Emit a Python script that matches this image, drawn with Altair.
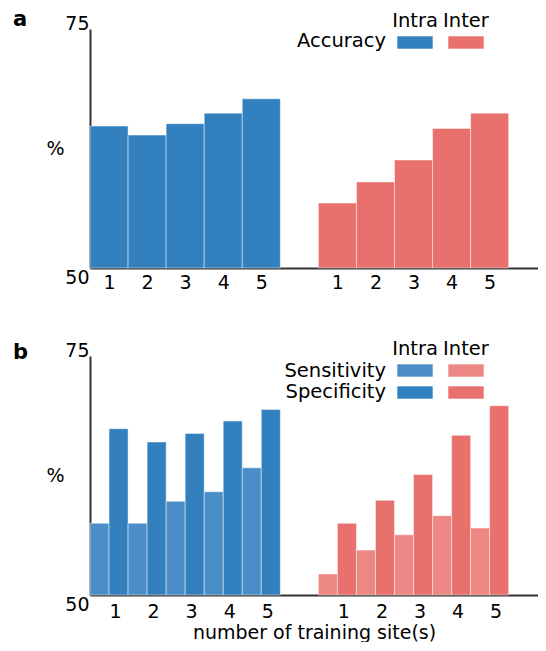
import altair as alt
import pandas as pd

# ---------------- data ----------------
SITES = [1, 2, 3, 4, 5]
GROUPS = ["Intra", "Inter"]
ACC_INTRA = [64.85, 63.9, 65.1, 66.2, 67.7]
ACC_INTER = [56.8, 59.0, 61.3, 64.6, 66.2]
SENS_INTRA = [57.5, 57.5, 59.8, 60.8, 63.3]
SPEC_INTRA = [67.4, 66.0, 66.9, 68.2, 69.4]
SENS_INTER = [52.2, 54.7, 56.3, 58.3, 57.0]
SPEC_INTER = [57.5, 59.9, 62.6, 66.7, 69.8]
Y_TICKS = [50, 75]
X_TITLE = "number of training site(s)"

BLUE = "#3380bf"
RED = "#e8716d"
BLUE_H = "#4b8dc7"
RED_H = "#ec8783"

FONT = "DejaVu Sans"
W, H = 448, 239


def slot(group, site):
    return site - 1 if group == "Intra" else site + 5


rows_a = []
for g, vals in (("Intra", ACC_INTRA), ("Inter", ACC_INTER)):
    for s, v in zip(SITES, vals):
        p = slot(g, s)
        rows_a.append(dict(group=g, key=g + "|Accuracy", site=s, value=v, x0=p - 0.5, x1=p + 0.5))
df_a = pd.DataFrame(rows_a)

rows_b = []
for g, sens, spec in (("Intra", SENS_INTRA, SPEC_INTRA), ("Inter", SENS_INTER, SPEC_INTER)):
    for s, v1, v2 in zip(SITES, sens, spec):
        p = slot(g, s)
        rows_b.append(dict(group=g, key=g + "|Sensitivity", site=s, value=v1, x0=p - 0.5, x1=p))
        rows_b.append(dict(group=g, key=g + "|Specificity", site=s, value=v2, x0=p, x1=p + 0.5))
df_b = pd.DataFrame(rows_b)

tick_pos = [slot(g, s) for g in GROUPS for s in SITES]

color_scale = alt.Scale(
    domain=["Intra|Accuracy", "Inter|Accuracy", "Intra|Sensitivity", "Inter|Sensitivity",
            "Intra|Specificity", "Inter|Specificity"],
    range=[BLUE, RED, BLUE_H, RED_H, BLUE, RED],
)


def bars(df, label_offset, label_pad, show_title):
    x_axis = alt.Axis(
        values=tick_pos,
        labelExpr="datum.value < 5 ? datum.value + 1 : datum.value - 5",
        ticks=False, grid=False, domainColor="#333333", domainWidth=2,
        labelFontSize=19, labelPadding=label_pad, labelOffset=label_offset, labelColor="black",
        title=X_TITLE if show_title else None,
        titleFontSize=19, titleFontWeight="normal", titlePadding=2, titleColor="black",
    )
    y_axis = alt.Axis(
        values=Y_TICKS, ticks=False, grid=False, domainColor="#333333", domainWidth=2,
        labelFontSize=19, labelPadding=1, labelColor="black",
        labelBaseline={"condition": {"test": "datum.value == 75", "value": "alphabetic"}, "value": "top"},
        title="%", titleAngle=0, titleX=-35, titleY=H / 2, titleAlign="center",
        titleBaseline="middle", titleFontSize=19, titleFontWeight="normal", titleColor="black",
    )
    return alt.Chart(df).mark_bar(stroke="white", strokeWidth=1, strokeOpacity=0.45).encode(
        x=alt.X("x0:Q", scale=alt.Scale(domain=[-0.5, 11.27], nice=False, zero=False), axis=x_axis),
        x2="x1:Q",
        y=alt.Y("value:Q", scale=alt.Scale(domain=[50, 75], nice=False, zero=False), axis=y_axis),
        y2=alt.datum(50),
        color=alt.Color("key:N", scale=color_scale, legend=None),
    )


def text(t, x, y, size=19.5, align="center", weight="normal"):
    return alt.Chart(pd.DataFrame({"t": [t]})).mark_text(
        align=align, baseline="alphabetic", fontSize=size, fontWeight=weight, font=FONT, color="black"
    ).encode(text="t:N", x=alt.value(x), y=alt.value(y))


def swatch(color, x, y):
    return alt.Chart(pd.DataFrame({"c": [color]})).mark_rect(
        stroke="white", strokeWidth=1, strokeOpacity=0.6
    ).encode(
        x=alt.value(x), x2=alt.value(x + 36), y=alt.value(y), y2=alt.value(y + 13),
        color=alt.Color("c:N", scale=None),
    )


COL_X = {"Intra": 325, "Inter": 376}

panel_a = alt.layer(
    bars(df_a, 0, 5, False),
    text("a", -77, -3, size=21, align="left", weight="bold"),
    text(GROUPS[0], COL_X["Intra"], -2),
    text(GROUPS[1], COL_X["Inter"], -2),
    text("Accuracy", 296, 18, align="right"),
    swatch(BLUE, COL_X["Intra"] - 18, 7),
    swatch(RED, COL_X["Inter"] - 18, 7),
).properties(width=W, height=H)

panel_b = alt.layer(
    bars(df_b, 6, 7, True),
    text("b", -77, 3, size=21, align="left", weight="bold"),
    text(GROUPS[0], COL_X["Intra"], -1),
    text(GROUPS[1], COL_X["Inter"], -1),
    text("Sensitivity", 296, 21, align="right"),
    text("Specificity", 296, 42, align="right"),
    swatch(BLUE_H, COL_X["Intra"] - 18, 8),
    swatch(RED_H, COL_X["Inter"] - 18, 8),
    swatch(BLUE, COL_X["Intra"] - 18, 30),
    swatch(RED, COL_X["Inter"] - 18, 30),
).properties(width=W, height=H)

chart = alt.vconcat(panel_a, panel_b, spacing=88, bounds="flush").properties(
    padding={"left": 5, "top": 1, "right": 0, "bottom": 0}
).configure(font=FONT, view=alt.ViewConfig(stroke=None, strokeWidth=0))

chart.save("out.html", embed_options={"renderer": "svg", "actions": False})
